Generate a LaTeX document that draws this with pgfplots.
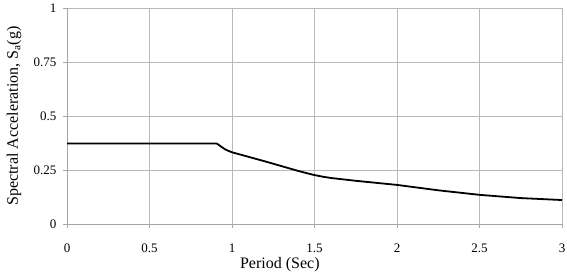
\documentclass[border=0pt]{standalone}
\usepackage{pgfplots}
\pgfplotsset{compat=1.18}
\usepackage{fontspec}
\setmainfont{Liberation Serif}
\begin{document}
\begin{tikzpicture}[x=1pt,y=1pt]
\useasboundingbox (0,0) rectangle (567,271);
\begin{axis}[
  at={(67pt,47pt)}, anchor=south west,
  scale only axis,
  width=495pt, height=216pt,
  xmin=0, xmax=3, ymin=0, ymax=1,
  xtick={0,0.5,...,3}, ytick={0,0.25,0.5,0.75,1},
  xticklabels={0,0.5,1,1.5,2,2.5,3},
  yticklabels={0,0.25,0.5,0.75,1},
  grid=major,
  grid style={draw=black!28, line width=0.7pt},
  axis line style={draw=black!35, line width=0.7pt},
  tick style={draw=black!35, line width=0.7pt},
  tick align=outside, major tick length=4pt,
  axis x line*=bottom, axis y line*=left,
  xlabel={Period (Sec)},
  ylabel={Spectral Acceleration, S$_{\mathrm{a}}$(g)},
  label style={font=\fontsize{16}{18}\selectfont},
  tick label style={font=\fontsize{13}{15}\selectfont},
  /pgf/number format/assume math mode=true,
  xticklabel style={anchor=base, yshift=-24pt},
  yticklabel style={anchor=east, xshift=-3pt},
  xlabel style={at={(axis description cs:0.43,-0.2037)}, anchor=base},
  ylabel style={at={(axis description cs:-0.1071,0.5)}, anchor=center},
]
\addplot[black, line width=1.8pt, line join=round] coordinates {
(0,0.373) (0.907,0.373) (0.92,0.366) (0.94,0.355) (0.96,0.345) (0.98,0.338) (1,0.332)
(1.1,0.311) (1.2,0.29) (1.3,0.268) (1.4,0.246) (1.45,0.236) (1.5,0.2265) (1.55,0.219)
(1.6,0.213) (1.75,0.2) (2,0.181) (2.25,0.156) (2.5,0.135) (2.75,0.12) (3,0.111)
};
\end{axis}
\end{tikzpicture}
\end{document}
